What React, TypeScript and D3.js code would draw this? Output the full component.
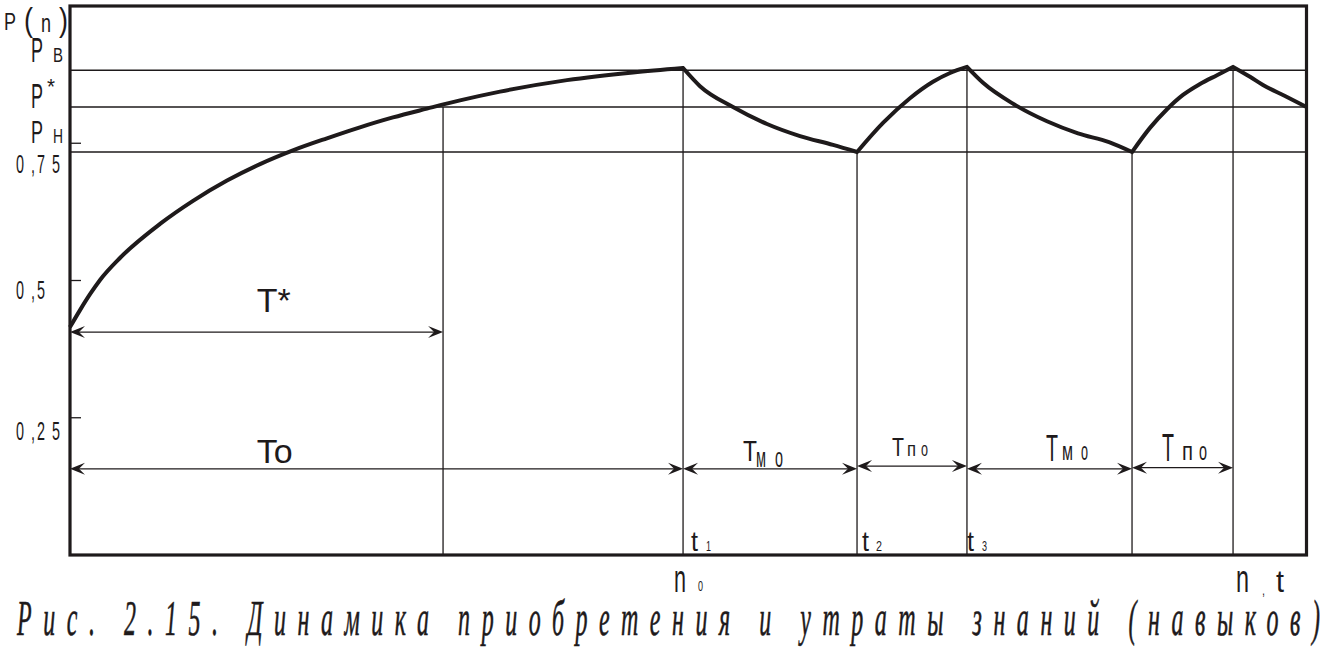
import React from 'react';
import * as d3 from 'd3';

// ---------- data ----------
const acquireT = [0, 0.81, 1.62, 2.43, 4.04, 7.28, 9.95, 12.7, 15.37, 18.03, 20.78, 23.45, 26.12, 28.87, 31.54, 34.78, 40.19, 45.53, 49.58];
const acquireP = [0.415, 0.446, 0.475, 0.501, 0.541, 0.603, 0.645, 0.682, 0.712, 0.737, 0.759, 0.779, 0.797, 0.813, 0.828, 0.844, 0.865, 0.879, 0.887];

const loss1T = [49.58, 50.95, 53.62, 56.37, 59.04, 61.71, 63.65];
const loss1P = [0.887, 0.854, 0.816, 0.785, 0.763, 0.747, 0.734];

const relearn1T = [63.65, 65.75, 67.93, 69.79, 71.17, 72.54];
const relearn1P = [0.734, 0.787, 0.832, 0.862, 0.878, 0.889];

const loss2T = [72.54, 73.84, 76.34, 79.01, 81.52, 84.03, 85.89];
const loss2P = [0.889, 0.86, 0.821, 0.79, 0.768, 0.752, 0.734];

const relearn2T = [85.89, 87.34, 88.72, 90.01, 91.39, 92.76, 94.06];
const relearn2P = [0.734, 0.778, 0.812, 0.838, 0.858, 0.874, 0.889];

const loss3T = [94.06, 95.43, 96.48, 98.26, 100];
const loss3P = [0.889, 0.871, 0.856, 0.836, 0.816];

const levelNames = ['PB', 'P*', 'PH'];
const levelValues = [0.883, 0.816, 0.734];

const tickValues = [0.25, 0.5, 0.75];
const tickLabels = ['0,25', '0,5', '0,75'];

const markerT = [30.17, 49.58, 63.65, 72.54, 85.89, 94.06];
const markerTop = [0.816, 0.883, 0.734, 0.889, 0.734, 0.889];

const spanNames = ['T*', 'To', 'Tмо', 'Tпо', 'Tмо', 'Tпо'];
const spanFrom = [0, 0, 49.58, 63.65, 72.54, 85.89];
const spanTo = [30.17, 49.58, 63.65, 72.54, 85.89, 94.06];
const spanLevel = [0.406, 0.157, 0.157, 0.162, 0.157, 0.159];

const caption = 'Рис. 2.15. Динамика приобретения и утраты знаний (навыков)';

// ---------- scales ----------
const W = 1325;
const H = 654;
const xS = d3.scaleLinear().domain([0, 100]).range([70, 1306.5]);
const yS = d3.scaleLinear().domain([0, 1]).range([555, 6]);

const INK = '#1e1a1b';
const SANS = "'Liberation Sans', Arial, sans-serif";

const segments = [
  [acquireT, acquireP],
  [loss1T, loss1P],
  [relearn1T, relearn1P],
  [loss2T, loss2P],
  [relearn2T, relearn2P],
  [loss3T, loss3P],
];

const lineGen = d3
  .line<[number, number]>()
  .x((d) => xS(d[0]))
  .y((d) => yS(d[1]))
  .curve(d3.curveMonotoneX);

function curvePath(): string {
  return segments
    .map(([ts, ps], i) => {
      const pts = ts.map((t, k) => [t, ps[k]] as [number, number]);
      let d = lineGen(pts) || '';
      if (i > 0) d = d.replace(/^M[-\d.,e]+/, '');
      return d;
    })
    .join('');
}

// single glyph squeezed to width
function G(props: { ch: string; x: number; y: number; size: number; w: number; family?: string }) {
  const { ch, x, y, size, w, family } = props;
  return (
    <text
      x={x}
      y={y}
      fontSize={size}
      textLength={w}
      lengthAdjust="spacingAndGlyphs"
      fontFamily={family || SANS}
      fill={INK}
    >
      {ch}
    </text>
  );
}

function arrowHead(xt: number, yy: number, dir: number): string {
  // dir = -1 points left, +1 points right
  const b = 15;
  const n = 9;
  const h = 6;
  return `M${xt},${yy} L${xt - dir * b},${yy - h} L${xt - dir * n},${yy} L${xt - dir * b},${yy + h} Z`;
}

export default function App() {
  const y0 = yS(0);

  // tick label layouts (glyph offsets in px from left)
  const tickGlyphX = [17, 32, 38, 53];
  const tickBaseOffset = [22, 18.5, 30];

  return (
    <svg
      width={W}
      height={H}
      viewBox={`0 0 ${W} ${H}`}
      style={{ position: 'absolute', left: 0, top: 0, background: '#fff' }}
    >
      <rect x={0} y={0} width={W} height={H} fill="#fff" />

      {/* reference levels */}
      {levelValues.map((v, i) => (
        <line
          key={levelNames[i]}
          x1={xS(0)}
          x2={xS(100)}
          y1={yS(v)}
          y2={yS(v)}
          stroke={INK}
          strokeWidth={1.4}
        />
      ))}

      {/* vertical markers */}
      {markerT.map((t, i) => (
        <line key={'m' + i} x1={xS(t)} x2={xS(t)} y1={yS(markerTop[i])} y2={y0} stroke={INK} strokeWidth={1.3} />
      ))}

      {/* ticks */}
      {tickValues.map((v) => (
        <line key={'t' + v} x1={xS(0)} x2={xS(0) + 11} y1={yS(v)} y2={yS(v)} stroke={INK} strokeWidth={1.3} />
      ))}

      {/* span arrows */}
      {spanNames.map((nm, i) => {
        const x1 = xS(spanFrom[i]);
        const x2 = xS(spanTo[i]);
        const yy = yS(spanLevel[i]);
        return (
          <g key={'s' + i}>
            <line x1={x1 + 6} x2={x2 - 6} y1={yy} y2={yy} stroke={INK} strokeWidth={1.3} />
            <path d={arrowHead(x1, yy, -1)} fill={INK} />
            <path d={arrowHead(x2, yy, 1)} fill={INK} />
          </g>
        );
      })}

      {/* frame */}
      <rect x={xS(0)} y={yS(1)} width={xS(100) - xS(0)} height={yS(0) - yS(1)} fill="none" stroke={INK} strokeWidth={3.2} />

      {/* main curve */}
      <path d={curvePath()} fill="none" stroke={INK} strokeWidth={4} strokeLinejoin="miter" strokeMiterlimit={6} />

      {/* axis title P(n) */}
      <G ch="P" x={4} y={30} size={24} w={12} />
      <G ch="(" x={24} y={31} size={33} w={9} />
      <G ch="n" x={41} y={32} size={26} w={10} />
      <G ch=")" x={59} y={31} size={33} w={9} />

      {/* level labels */}
      <G ch="P" x={31} y={yS(levelValues[0]) - 8} size={35} w={12} />
      <G ch="B" x={53} y={yS(levelValues[0]) - 8} size={20} w={10} />
      <G ch="P" x={31} y={yS(levelValues[1]) + 1} size={35} w={12} />
      <G ch="*" x={47} y={yS(levelValues[1]) - 13} size={22} w={8} />
      <G ch="P" x={31} y={yS(levelValues[2]) - 9} size={32} w={12} />
      <G ch="H" x={53} y={yS(levelValues[2]) - 9} size={21} w={10} />

      {/* tick labels */}
      {tickValues.map((v, i) => {
        const chars = tickLabels[i].split('');
        const yy = yS(v) + tickBaseOffset[i];
        return (
          <g key={'tl' + v}>
            {chars.map((c, k) => (
              <G key={k} ch={c} x={tickGlyphX[k] - 1} y={yy} size={25} w={c === ',' ? 4 : 8} />
            ))}
          </g>
        );
      })}

      {/* span labels */}
      <text x={xS(15.1)} y={yS(spanLevel[0]) - 20} fontSize={34} fontFamily={SANS} fill={INK}>
        {spanNames[0]}
      </text>
      <text x={xS(15.1)} y={yS(spanLevel[1]) - 6} fontSize={34} fontFamily={SANS} fill={INK}>
        {spanNames[1]}
      </text>

      {/* Tмо 1 */}
      <G ch="T" x={xS(spanFrom[2]) + 60} y={461} size={29} w={14} />
      <G ch="м" x={xS(spanFrom[2]) + 73} y={467} size={27} w={10} />
      <G ch="о" x={xS(spanFrom[2]) + 92} y={467} size={27} w={8} />
      {/* Tпо 1 */}
      <G ch="T" x={xS(spanFrom[3]) + 35} y={456} size={25} w={12} />
      <G ch="п" x={xS(spanFrom[3]) + 50} y={456} size={20} w={9} />
      <G ch="о" x={xS(spanFrom[3]) + 64} y={456} size={20} w={7} />
      {/* Tмо 2 */}
      <G ch="T" x={xS(spanFrom[4]) + 79} y={461} size={36} w={12} />
      <G ch="м" x={xS(spanFrom[4]) + 95} y={460} size={25} w={11} />
      <G ch="о" x={xS(spanFrom[4]) + 114} y={460} size={25} w={7} />
      {/* Tпо 2 */}
      <G ch="T" x={xS(spanFrom[5]) + 30} y={461} size={38} w={12} />
      <G ch="п" x={xS(spanFrom[5]) + 50} y={460} size={25} w={11} />
      <G ch="о" x={xS(spanFrom[5]) + 67} y={460} size={25} w={8} />

      {/* t labels */}
      <G ch="t" x={xS(markerT[1]) + 8} y={551} size={28} w={7} />
      <G ch="1" x={xS(markerT[1]) + 23} y={551} size={15} w={5} />
      <G ch="t" x={xS(markerT[2]) + 5} y={551} size={28} w={7} />
      <G ch="2" x={xS(markerT[2]) + 19} y={551} size={15} w={6} />
      <G ch="t" x={xS(markerT[3]) + 0} y={551} size={28} w={7} />
      <G ch="3" x={xS(markerT[3]) + 15} y={551} size={15} w={5} />

      {/* x-axis labels */}
      <G ch="n" x={xS(markerT[1]) - 9} y={592} size={38} w={12} />
      <G ch="0" x={xS(markerT[1]) + 15} y={591} size={14} w={5} />
      <G ch="n" x={1236} y={592} size={38} w={13} />
      <G ch="," x={1262} y={595} size={14} w={3} />
      <G ch="t" x={1276} y={592} size={32} w={8} />

      {/* caption */}
      <g transform="translate(17,635) scale(0.48,1)">
        <text
          x={0}
          y={0}
          fontSize={50}
          fontStyle="italic"
          fontFamily="'Liberation Serif', 'Times New Roman', serif"
          textLength={(1320 - 17) / 0.48}
          lengthAdjust="spacing"
          fill={INK}
          stroke={INK}
          strokeWidth={0.6}
        >
          {caption}
        </text>
      </g>
    </svg>
  );
}
